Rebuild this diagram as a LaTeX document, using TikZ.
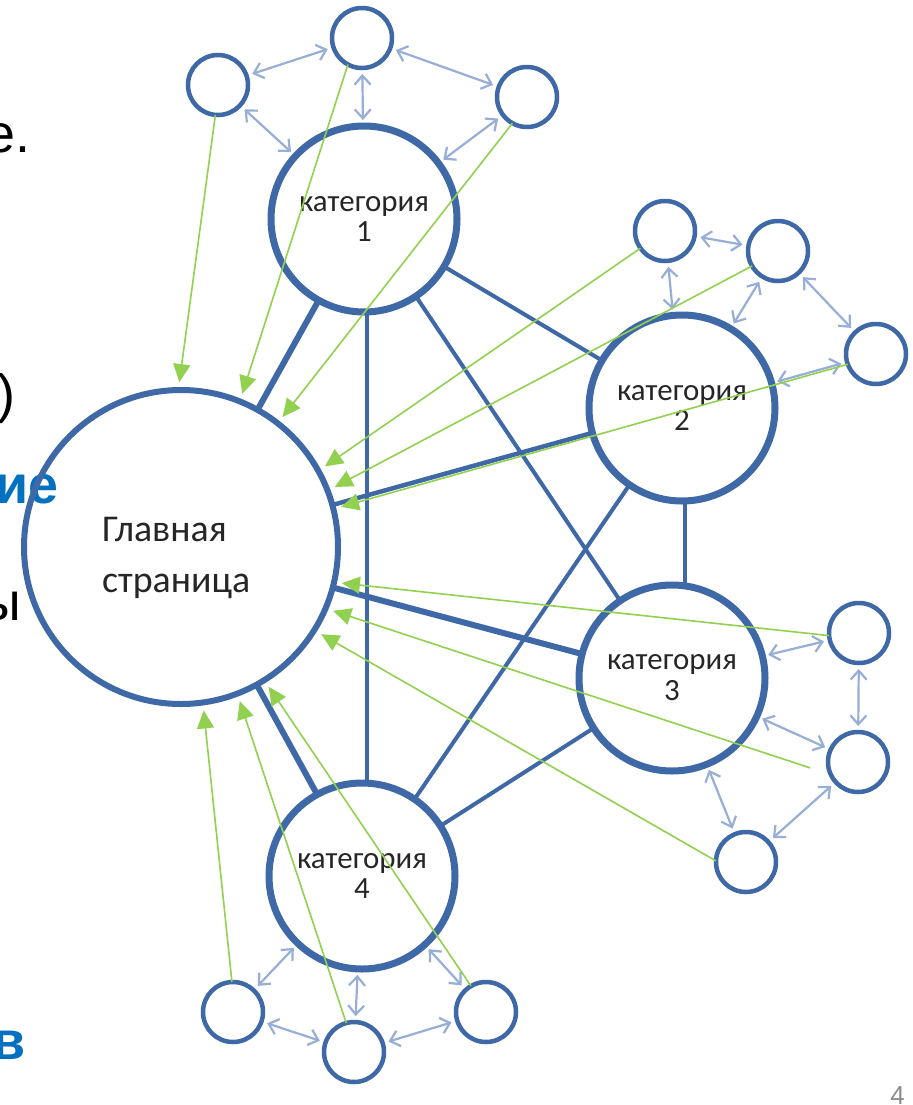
\documentclass[tikz,border=0pt]{standalone}
\usepackage{fontspec}
\setmainfont{Carlito}
\newfontfamily\arialf{Liberation Sans}
\usetikzlibrary{arrows.meta}
\definecolor{nodeblue}{HTML}{3E68A6}
\definecolor{linkblue}{HTML}{97AED6}
\definecolor{arrgreen}{HTML}{92D050}
\definecolor{slideblue}{HTML}{0070C0}
\definecolor{txtgray}{HTML}{262626}
\definecolor{pagegray}{HTML}{8C8C8C}
\begin{document}
\begin{tikzpicture}[x=1bp,y=-1bp,
  mainnode/.style={circle,draw=nodeblue,line width=6bp,minimum size=314bp,inner sep=0pt,outer sep=0pt},
  maintext/.style={align=left,font=\fontsize{38}{51}\selectfont,text=txtgray,inner sep=0pt,anchor=west},
  catnode/.style={circle,draw=nodeblue,line width=7bp,minimum size=186bp,inner sep=0pt,outer sep=0pt,align=center,font=\fontsize{31}{31}\selectfont,text=txtgray},
  leaf/.style={circle,draw=nodeblue,line width=4.5bp,minimum size=60bp,inner sep=0pt,outer sep=0pt},
  thicklink/.style={draw=nodeblue,line width=6bp},
  midlink/.style={draw=nodeblue,line width=4.5bp},
  link/.style={draw=nodeblue,line width=4bp},
  twoway/.style={draw=linkblue,line width=2.2bp,{Straight Barb[length=9bp,width=16bp]}-{Straight Barb[length=9bp,width=16bp]},shorten <=6bp,shorten >=6bp},
  pointer/.style={draw=arrgreen,line width=1.6bp,-{Triangle[length=18bp,width=17bp]},shorten >=8bp},
  slidetxt/.style={font=\arialf\fontsize{54}{60}\selectfont,anchor=base east,inner sep=0pt},
  slidebold/.style={slidetxt,font=\arialf\bfseries\fontsize{54}{60}\selectfont,text=slideblue}
]
\path[use as bounding box] (0,0) rectangle (913,1105);
\clip (0,0) rectangle (913,1105);
\fill[white] (0,0) rectangle (913,1105);

% slide text fragments (cut by the left edge, as in the slide)
\node[slidetxt] (t1) at (31,152) {е.};
\node[slidetxt] (t2) at (16,412) {)};
\node[slidebold] (t3) at (59,503) {ие};
\node[slidetxt] (t4) at (21,620) {ы};
\node[slidebold] (t5) at (26,1059) {в};
\node[font=\arialf\fontsize{26}{28}\selectfont,text=pagegray,anchor=base east,inner sep=0pt] (pg) at (905,1104) {4};

% main and category nodes
\node[mainnode] (main) at (181,547) {};
\node[maintext] (mainlbl) at (102,558) {Главная\\страница};
\node[catnode] (cat1) at (364,219) {категория\\1};
\node[catnode] (cat2) at (682,408) {категория\\2};
\node[catnode] (cat3) at (672,678) {категория\\3};
\node[catnode] (cat4) at (362,876) {категория\\4};

% leaf nodes
\node[leaf] (s1a) at (218,85) {};
\node[leaf] (s1b) at (362,38) {};
\node[leaf] (s1c) at (527,97) {};
\node[leaf] (s2a) at (665,231) {};
\node[leaf] (s2b) at (778,251) {};
\node[leaf] (s2c) at (876,354) {};
\node[leaf] (s3a) at (859,633) {};
\node[leaf] (s3b) at (858,762) {};
\node[leaf] (s3c) at (746,862) {};
\node[leaf] (s4a) at (233,1012) {};
\node[leaf] (s4b) at (354,1052) {};
\node[leaf] (s4c) at (486,1012) {};

% blue links
\draw[thicklink] (main) -- (cat1);
\draw[midlink] (main) -- (cat2);
\draw[thicklink] (main) -- (cat3);
\draw[thicklink] (main) -- (cat4);
\draw[link] (cat1.-88) -- (cat1.-88 |- cat4.north);
\draw[link] (cat1) -- (cat2);
\draw[link] (cat1) -- (cat3);
\draw[link] (cat2.-88) -- (cat2.-88 |- cat3.north);
\draw[link] (cat2) -- (cat4);
\draw[link] (cat3) -- (cat4);

% two-way light arrows
\draw[twoway] (s1a) -- (s1b);
\draw[twoway] (s1b) -- (s1c);
\draw[twoway] (s1a) -- (cat1);
\draw[twoway] (s1b) -- (cat1);
\draw[twoway] (s1c) -- (cat1);
\draw[twoway] (s2a) -- (s2b);
\draw[twoway] (s2b) -- (s2c);
\draw[twoway] (s2a) -- (cat2);
\draw[twoway] (s2b) -- (cat2);
\draw[twoway] (s2c) -- (cat2);
\draw[twoway] (s3a) -- (s3b);
\draw[twoway] (s3b) -- (s3c);
\draw[twoway] (s3a) -- (cat3);
\draw[twoway] (s3b) -- (cat3);
\draw[twoway] (s3c) -- (cat3);
\draw[twoway] (s4a) -- (s4b);
\draw[twoway] (s4b) -- (s4c);
\draw[twoway] (s4a) -- (cat4);
\draw[twoway] (s4b) -- (cat4);
\draw[twoway] (s4c) -- (cat4);

% green arrows to main page
\draw[pointer] (s1a.265) -- (main.91);
\draw[pointer] (s1b.242) -- (main.68.5);
\draw[pointer] (s1c.241) -- (main.52.6);
\draw[pointer] (s2a.215) -- (main.29.4);
\draw[pointer] (s2b.210) -- (main.21);
\draw[pointer] (s2c.200) -- (main.14.4);
\draw[pointer] (s3a.185) -- (main.-13.3);
\draw[pointer,shorten <=22bp] (s3b.205) -- (main.-23.5);
\draw[pointer] (s3c.178) -- (main.-32);
\draw[pointer] (s4a.92) -- (main.-82);
\draw[pointer] (s4b.105) -- (main.-69);
\draw[pointer] (s4c.120) -- (main.-58);
\end{tikzpicture}
\end{document}
